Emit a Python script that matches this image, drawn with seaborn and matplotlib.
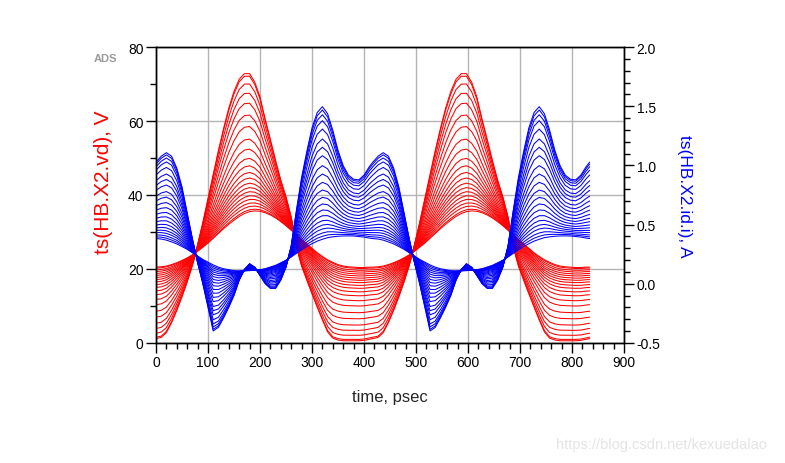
import numpy as np
import pandas as pd
import matplotlib
matplotlib.use("Agg")
import matplotlib.pyplot as plt
from matplotlib.ticker import MultipleLocator
import seaborn as sns

# one RF period (psec), values read every 10 ps; the waveform repeats twice
period = 417
t_period = list(range(0, 420, 10))

# drain voltage, largest-swing and smallest-swing traces (V)
vd_outer = [1.2, 1.5, 2.8, 5.5, 8.8, 12.5, 16.5, 21.0, 26.5, 32.5,
            39.0, 45.5, 52.0, 58.0, 63.5, 68.0, 71.3, 72.8, 72.8, 70.5,
            66.5, 60.5, 55.0, 49.3, 44.0, 39.5, 34.0, 26.0, 20.8, 17.0,
            13.3, 9.7, 6.2, 3.0, 1.3, 0.8, 0.6, 0.6, 0.6, 0.6,
            0.7, 1.0]
vd_inner = [20.5, 20.6, 20.8, 21.2, 21.7, 22.3, 23.0, 23.8, 24.8, 25.9,
            27.0, 28.3, 29.6, 30.9, 32.1, 33.2, 34.2, 35.0, 35.5, 35.7,
            35.6, 35.2, 34.6, 33.8, 32.8, 31.7, 30.5, 29.3, 28.0, 26.8,
            25.6, 24.4, 23.4, 22.5, 21.8, 21.2, 20.8, 20.6, 20.5, 20.4,
            20.4, 20.5]
# drain current, largest-swing and smallest-swing traces (A)
id_outer = [1.03, 1.08, 1.11, 1.08, 0.98, 0.82, 0.60, 0.38, 0.18, 0.00,
            -0.20, -0.40, -0.37, -0.29, -0.20, -0.10, 0.03, 0.12, 0.17, 0.14,
            0.07, 0.00, -0.04, -0.04, 0.03, 0.14, 0.32, 0.62, 0.90, 1.12,
            1.32, 1.45, 1.50, 1.44, 1.30, 1.13, 1.00, 0.92, 0.885, 0.88,
            0.92, 0.99]
id_inner = [0.37, 0.365, 0.355, 0.34, 0.325, 0.305, 0.285, 0.26, 0.235, 0.21,
            0.19, 0.17, 0.15, 0.135, 0.125, 0.115, 0.11, 0.11, 0.11, 0.115,
            0.12, 0.13, 0.145, 0.16, 0.18, 0.20, 0.225, 0.25, 0.275, 0.30,
            0.32, 0.34, 0.355, 0.37, 0.38, 0.388, 0.393, 0.395, 0.395, 0.39,
            0.385, 0.375]

# level of each swept trace: vd read at t=180 ps, id read at t=320 ps
vd_levels = [72.9, 72.1, 70.0, 67.5, 64.8, 61.6, 58.5, 55.1, 52.4, 49.9, 47.9,
             46.1, 44.6, 43.2, 42.0, 40.9, 39.8, 38.8, 37.8, 36.9, 36.0, 35.3]
id_levels = [1.496, 1.468, 1.428, 1.378, 1.307, 1.223, 1.153, 1.082, 0.998,
             0.927, 0.857, 0.792, 0.730, 0.674, 0.623, 0.575, 0.533, 0.496,
             0.463, 0.429, 0.401, 0.376]


def sweep_frame(outer, inner, levels, t_ref):
    outer = np.array(outer)
    inner = np.array(inner)
    i = t_period.index(t_ref)
    t = np.concatenate([t_period, np.array(t_period) + period, [2 * period]])
    parts = []
    for k, lev in enumerate(levels):
        w = np.clip((lev - inner[i]) / (outer[i] - inner[i]), 0, 1)
        y = inner + w * (outer - inner)
        y = np.concatenate([y, y, y[:1]])
        parts.append(pd.DataFrame({"time": t, "value": y, "curve": k}))
    return pd.concat(parts, ignore_index=True)


vd = sweep_frame(vd_outer, vd_inner, vd_levels, 180)
idr = sweep_frame(id_outer, id_inner, id_levels, 320)

sns.set_style("white")
plt.rcParams["font.family"] = ["Liberation Sans", "DejaVu Sans"]
plt.rcParams["axes.unicode_minus"] = False

W, H = 785, 464
fig = plt.figure(figsize=(W / 100, H / 100), dpi=100)
ax = fig.add_axes([156 / W, (H - 344) / H, 468 / W, 296 / H])

sns.lineplot(data=vd, x="time", y="value", units="curve", estimator=None,
             color="#ff0000", lw=0.75, ax=ax, legend=False)
ax2 = ax.twinx()
sns.lineplot(data=idr, x="time", y="value", units="curve", estimator=None,
             color="#0000ff", lw=0.75, ax=ax2, legend=False)

ax.set_xlim(0, 900)
ax.set_ylim(0, 80)
ax2.set_ylim(-0.5, 2.0)

ax.xaxis.set_major_locator(MultipleLocator(100))
ax.xaxis.set_minor_locator(MultipleLocator(20))
ax.yaxis.set_major_locator(MultipleLocator(20))
ax.yaxis.set_minor_locator(MultipleLocator(10))
ax2.yaxis.set_major_locator(MultipleLocator(0.5))
ax2.yaxis.set_minor_locator(MultipleLocator(0.1))
ax2.yaxis.set_major_formatter(matplotlib.ticker.FormatStrFormatter("%.1f"))

for a in (ax, ax2):
    a.tick_params(which="major", direction="out", length=7, width=1,
                  color="black", labelsize=10, labelcolor="black", pad=2)
    a.tick_params(which="minor", direction="out", length=4, width=1,
                  color="black")
    for s in a.spines.values():
        s.set_color("black")
        s.set_linewidth(1)
ax.tick_params(axis="x", bottom=True, which="both")
ax.tick_params(axis="y", left=True, which="both")
ax2.tick_params(axis="y", right=True, which="both")

ax.set_axisbelow(True)
ax.grid(True, which="major", color="#b4b4b4", lw=1)
ax2.grid(False)

ax.set_xlabel("time, psec", fontsize=12)
ax.xaxis.set_label_coords(0.5, -0.155)
ax.set_ylabel("ts(HB.X2.vd), V", color="#ff0000", fontsize=15,
              va="center", ha="center")
ax.yaxis.set_label_coords(-0.113, 0.545)
ax2.set_ylabel("ts(HB.X2.id.i), A", color="#0000ff", fontsize=12.5,
               rotation=270, va="center", ha="center")
ax2.yaxis.set_label_coords(1.130, 0.5)

fig.text(105 / W, 1 - 59 / H, "ADS", color="#9a9a9a", fontsize=8,
         fontweight="bold", ha="center", va="center")
fig.text(661 / W, 1 - 445 / H, "https://blog.csdn.net/kexuedalao",
         color="#e4e4e4", fontsize=10.5, ha="center", va="center")

fig.savefig("out.png", dpi=100)
